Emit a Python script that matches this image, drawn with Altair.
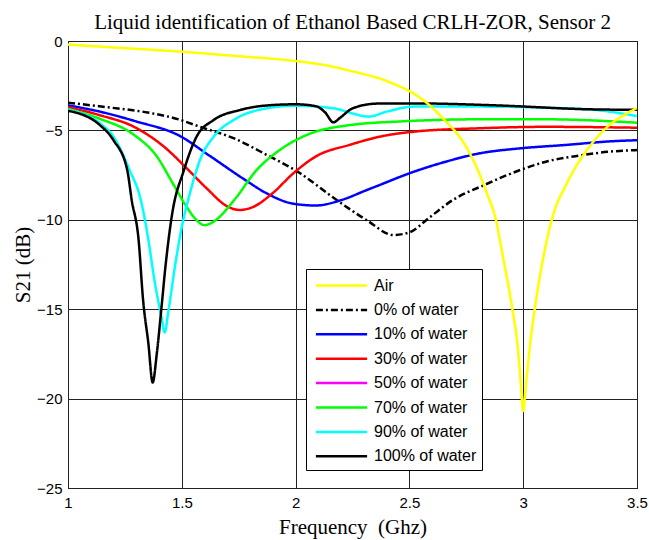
import altair as alt
import pandas as pd

# ---- data ----
names = ["Air", "0% of water", "10% of water", "30% of water",
         "50% of water", "70% of water", "90% of water", "100% of water"]
colors = ["#FFFF00", "#000000", "#0000FF", "#FF0000",
          "#FF00FF", "#00FF00", "#00FFFF", "#000000"]
dashes = [[1, 0], [7, 3, 2, 3], [1, 0], [1, 0], [1, 0], [1, 0], [1, 0], [1, 0]]

air_f = [1.0, 1.25, 1.5, 1.75, 2.0, 2.15, 2.25, 2.37, 2.45, 2.5, 2.58, 2.66, 2.72, 2.8, 2.84,
         2.88, 2.91, 2.95, 2.975, 2.99, 3.0, 3.01, 3.03, 3.06, 3.09, 3.13, 3.19, 3.28, 3.37, 3.455, 3.5]
air_db = [-0.2, -0.4, -0.6, -0.85, -1.12, -1.4, -1.7, -2.1, -2.5, -2.8, -3.5, -4.5, -5.35, -7.2, -8.5,
          -10.0, -12.0, -14.8, -17.0, -19.2, -20.7, -19.5, -17.0, -14.2, -12.0, -9.8, -8.0, -6.1, -4.8, -4.05, -3.75]

w0_f = [1.0, 1.17, 1.35, 1.49, 1.58, 1.73, 1.87, 2.02, 2.17, 2.31, 2.43, 2.5, 2.59, 2.69, 2.83,
        2.99, 3.1, 3.25, 3.37, 3.5]
w0_db = [-3.45, -3.7, -4.0, -4.4, -4.8, -5.45, -6.35, -7.4, -8.8, -10.0, -10.85, -10.7, -9.85, -8.9, -8.05,
         -7.2, -6.75, -6.4, -6.2, -6.1]

w10_f = [1.0, 1.14, 1.3, 1.49, 1.62, 1.77, 1.87, 1.99, 2.09, 2.2, 2.31, 2.37, 2.5, 2.66, 2.81,
         2.99, 3.18, 3.4, 3.5]
w10_db = [-3.6, -3.95, -4.5, -5.3, -6.4, -7.7, -8.5, -9.1, -9.2, -8.9, -8.35, -8.05, -7.4, -6.75, -6.28,
          -6.0, -5.82, -5.6, -5.55]

w30_f = [1.0, 1.14, 1.29, 1.43, 1.52, 1.61, 1.7, 1.755, 1.81, 1.9, 1.99, 2.09, 2.24, 2.37, 2.52,
         2.81, 3.1, 3.5]
w30_db = [-3.7, -4.15, -4.8, -6.0, -7.1, -8.25, -9.25, -9.45, -9.3, -8.5, -7.4, -6.45, -5.8, -5.35, -5.07,
          -4.88, -4.8, -4.85]

w70_f = [1.0, 1.14, 1.29, 1.39, 1.46, 1.52, 1.56, 1.6, 1.64, 1.73, 1.83, 1.93, 2.05, 2.24, 2.46,
         2.81, 3.1, 3.5]
w70_db = [-3.8, -4.35, -5.25, -6.45, -7.95, -9.25, -9.95, -10.3, -10.1, -8.9, -7.2, -6.1, -5.25, -4.7, -4.5,
          -4.38, -4.38, -4.57]

w90_f = [1.0, 1.14, 1.2, 1.27, 1.32, 1.353, 1.38, 1.41, 1.425, 1.44, 1.47, 1.5, 1.536, 1.58, 1.64,
         1.73, 1.84, 2.0, 2.17, 2.25, 2.32, 2.4, 2.52, 2.81, 3.1, 3.32, 3.5]
w90_db = [-3.85, -4.6, -5.35, -7.2, -8.9, -11.1, -13.4, -15.4, -16.3, -15.2, -12.6, -10.4, -8.5, -6.65, -5.35,
          -4.4, -3.85, -3.62, -3.77, -4.05, -4.23, -3.95, -3.67, -3.67, -3.73, -3.86, -4.2]

w100_f = [1.0, 1.14, 1.2, 1.26, 1.28, 1.31, 1.33, 1.353, 1.372, 1.39, 1.41, 1.43, 1.456, 1.51, 1.565,
          1.64, 1.756, 1.9, 2.0, 2.09, 2.13, 2.166, 2.195, 2.25, 2.36, 2.52, 2.88, 3.29, 3.5]
w100_db = [-3.9, -4.7, -5.55, -7.2, -8.9, -11.1, -14.5, -16.9, -19.1, -17.5, -15.0, -12.4, -9.8, -7.2, -5.35,
           -4.42, -3.86, -3.58, -3.54, -3.65, -4.0, -4.55, -4.3, -3.77, -3.5, -3.49, -3.6, -3.82, -3.85]

x_ticks = [1, 1.5, 2, 2.5, 3, 3.5]
y_ticks = [-25, -20, -15, -10, -5, 0]

# ---- table (drawing order: Air last so it is on top) ----
series = [
    ("0% of water", w0_f, w0_db),
    ("10% of water", w10_f, w10_db),
    ("30% of water", w30_f, w30_db),
    ("70% of water", w70_f, w70_db),
    ("90% of water", w90_f, w90_db),
    ("100% of water", w100_f, w100_db),
    ("Air", air_f, air_db),
]
rows = []
for k, (name, fs, ds) in enumerate(series):
    for i, (f, d) in enumerate(zip(fs, ds)):
        rows.append({"series": name, "f": f, "db": d, "idx": i, "layer": k})
df = pd.DataFrame(rows)

legend = alt.Legend(
    title=None, orient="none", legendX=238, legendY=228,
    fillColor="white", strokeColor="black", padding=5,
    symbolType="M-2.5,0H2.5", symbolSize=420, symbolStrokeWidth=2.5,
    symbolOffset=19, labelOffset=21,
    labelFont="Liberation Sans", labelFontSize=16, labelColor="black",
    rowPadding=4.4, labelLimit=300,
)

chart = alt.Chart(df).mark_line(strokeWidth=2.5, clip=True, interpolate="monotone").encode(
    x=alt.X("f:Q", scale=alt.Scale(domain=[1, 3.5], nice=False),
            axis=alt.Axis(values=x_ticks, format=".1~f", title="Frequency\u00a0 (Ghz)")),
    y=alt.Y("db:Q", scale=alt.Scale(domain=[-25, 0], nice=False),
            axis=alt.Axis(values=y_ticks, title="S21 (dB)")),
    color=alt.Color("series:N", scale=alt.Scale(domain=names, range=colors), legend=legend),
    strokeDash=alt.StrokeDash("series:N", scale=alt.Scale(domain=names, range=dashes), legend=legend),
    detail="layer:O",
    order="idx:Q",
).properties(
    width=569, height=447,
    title=alt.Title("Liquid identification of Ethanol Based CRLH-ZOR, Sensor 2",
                    font="Liberation Serif", fontSize=21, fontWeight="normal",
                    color="black", offset=1),
    autosize=alt.AutoSizeParams(type="none"),
    padding={"left": 68, "top": 41, "right": 12, "bottom": 52},
).configure_view(
    stroke="black", strokeWidth=1
).configure_axis(
    grid=True, gridColor="#222222", gridWidth=1, gridOpacity=1,
    domain=False, ticks=False, labelFlush=False, labelOverlap=False,
    labelFont="Liberation Sans", labelFontSize=15, labelColor="black", labelPadding=5,
    titleFont="Liberation Serif", titleFontSize=21, titleFontWeight="normal", titleColor="black",
).configure_axisY(
    titlePadding=3, labelPadding=6
).configure_axisX(
    titlePadding=6, labelPadding=7
)

chart.save("out.html", embed_options={"renderer": "svg", "actions": False})
